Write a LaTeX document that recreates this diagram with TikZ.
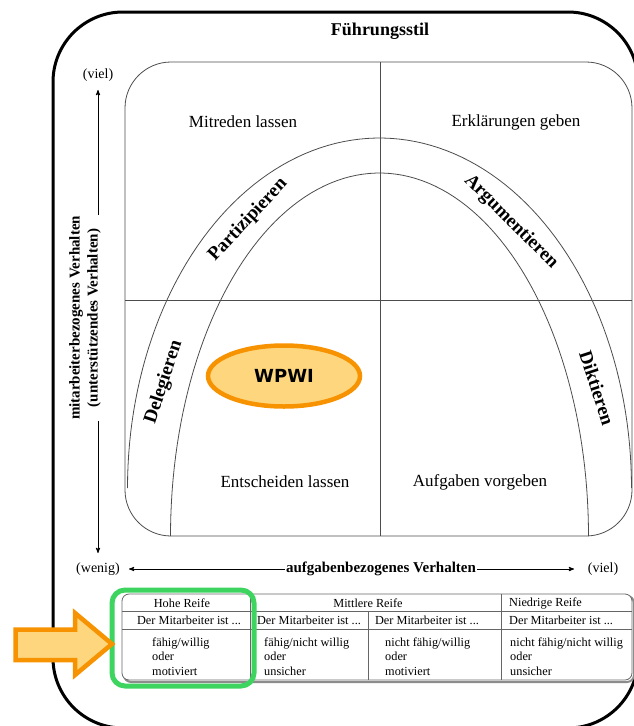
\documentclass[tikz,border=0pt]{standalone}
\usepackage{fontspec}
\setmainfont{Liberation Serif}
\newfontfamily\wpwifont{DejaVu Sans}
\usetikzlibrary{positioning, shapes, arrows}

\definecolor{wpwiorange}{RGB}{247,146,0}
\definecolor{wpwifill}{RGB}{253,214,126}
\definecolor{reifegreen}{RGB}{62,212,96}

\begin{document}
\begin{tikzpicture}[x=1pt,y=-1pt,>=stealth',
        feld/.style={draw=black!70, line width=0.8pt},
        tabelle/.style={draw=black!60, line width=0.8pt},
        quadrant/.style={font=\fontsize{17}{20}\selectfont},
        stil/.style={font=\bfseries\fontsize{19}{22}\selectfont},
        achse/.style={font=\bfseries\fontsize{15}{18}\selectfont, align=center, inner sep=1pt},
        mengen/.style={font=\fontsize{14}{16}\selectfont},
        zelle/.style={font=\fontsize{12.3}{14.5}\selectfont, inner sep=0pt},
        pfeil/.style={draw=wpwiorange, fill=wpwifill, line width=4.5pt, line join=miter}]
        \useasboundingbox (0,0) rectangle (633,726);
        \draw[line width=3pt, rounded corners=70pt] (53,12) rectangle (638,728);
        \node at (380,31) [font=\bfseries\fontsize{18}{21}\selectfont] (titel) {Führungsstil};

        \draw[feld, rounded corners=46pt] (125,62) rectangle (632,536);
        \draw[feld] (380,62) -- (380,536);
        \draw[feld] (125,300) -- (632,300);
        \draw[feld] plot[domain=180:0, samples=100] ({379.5+252*cos(\x)}, {488-350*sin(\x)});
        \draw[feld] plot[domain=180:0, samples=100] ({379.5+209*cos(\x)}, {536-363*sin(\x)});

        \node at (243,122) [quadrant] (mitreden) {Mitreden lassen};
        \node at (516,122) [quadrant] (erklaeren) {Erklärungen geben};
        \node at (285,482) [quadrant] (entscheiden) {Entscheiden lassen};
        \node at (480,482) [quadrant] (vorgeben) {Aufgaben vorgeben};

        \node at (164,382) [stil, rotate=72] (delegieren) {Delegieren};
        \node at (248,220) [stil, rotate=47] (partizipieren) {Partizipieren};
        \node at (511,222) [stil, rotate=-45] (argumentieren) {Argumentieren};
        \node at (597,388) [stil, rotate=-72] (diktieren) {Diktieren};

        \node at (284,376) [ellipse, pfeil, minimum width=152pt, minimum height=61pt,
                font=\wpwifont\bfseries\fontsize{18}{20}\selectfont] (wpwi) {WPWI};

        \node at (98,75) [mengen] (viel_oben) {(viel)};
        \node at (85,318) [achse, rotate=90] (mitarbeiter) {mitarbeiterbezogenes Verhalten\\(unterstützendes Verhalten)};
        \node at (98,569) [mengen] (wenig) {(wenig)};
        \coordinate (oben) at (98,90);
        \coordinate (unten) at (98,553);
        \draw[->, line width=0.9pt] (mitarbeiter.east -| oben) -- (oben);
        \draw[->, line width=0.9pt] (mitarbeiter.west -| unten) -- (unten);

        \node at (381,569) [achse] (aufgabe) {aufgabenbezogenes Verhalten};
        \node at (603,569) [mengen] (viel_rechts) {(viel)};
        \coordinate (links) at (129,569);
        \coordinate (rechts) at (574,569);
        \draw[->, line width=0.9pt] (aufgabe) -- (links);
        \draw[->, line width=0.9pt] (aufgabe) -- (rechts);

        \draw[draw=black!45, line width=2pt, rounded corners=7pt] (124,596) rectangle (634,682);
        \draw[tabelle, fill=white, rounded corners=7pt] (122,594) rectangle (632,680);
        \draw[tabelle] (122,611) -- (632,611);
        \draw[tabelle] (122,629) -- (632,629);
        \draw[tabelle] (250,594) -- (250,680);
        \draw[tabelle] (501,594) -- (501,680);
        \draw[tabelle] (368,611) -- (368,680);

        \node at (182,603) [zelle] (hoch) {Hohe Reife};
        \node at (368,603) [zelle] (mittel) {Mittlere Reife};
        \node at (509,603) [zelle, anchor=west] (niedrig) {Niedrige Reife};
        \node at (189,620) [zelle] (ma_hoch) {Der Mitarbeiter ist ...};
        \node at (309,620) [zelle] (ma_mittel_a) {Der Mitarbeiter ist ...};
        \node at (427,620) [zelle] (ma_mittel_b) {Der Mitarbeiter ist ...};
        \node at (509,620) [zelle, anchor=west] (ma_niedrig) {Der Mitarbeiter ist ...};
        \node at (152,637.5) [zelle, anchor=north west, align=left] (r_hoch) {fähig/willig\\oder\\motiviert};
        \node at (264,637.5) [zelle, anchor=north west, align=left] (r_mittel_a) {fähig/nicht willig\\oder\\unsicher};
        \node at (385,637.5) [zelle, anchor=north west, align=left] (r_mittel_b) {nicht fähig/willig\\oder\\motiviert};
        \node at (510,637.5) [zelle, anchor=north west, align=left] (r_niedrig) {nicht fähig/nicht willig\\oder\\unsicher};

        \draw[reifegreen, line width=5pt, rounded corners=13pt] (112,590) rectangle (254,686);
        \draw[pfeil] (15.5,629.5) -- (75,629.5) -- (75,613) -- (112,644) -- (75,675) -- (75,660) -- (15.5,660) -- cycle;
    \end{tikzpicture}
\end{document}
